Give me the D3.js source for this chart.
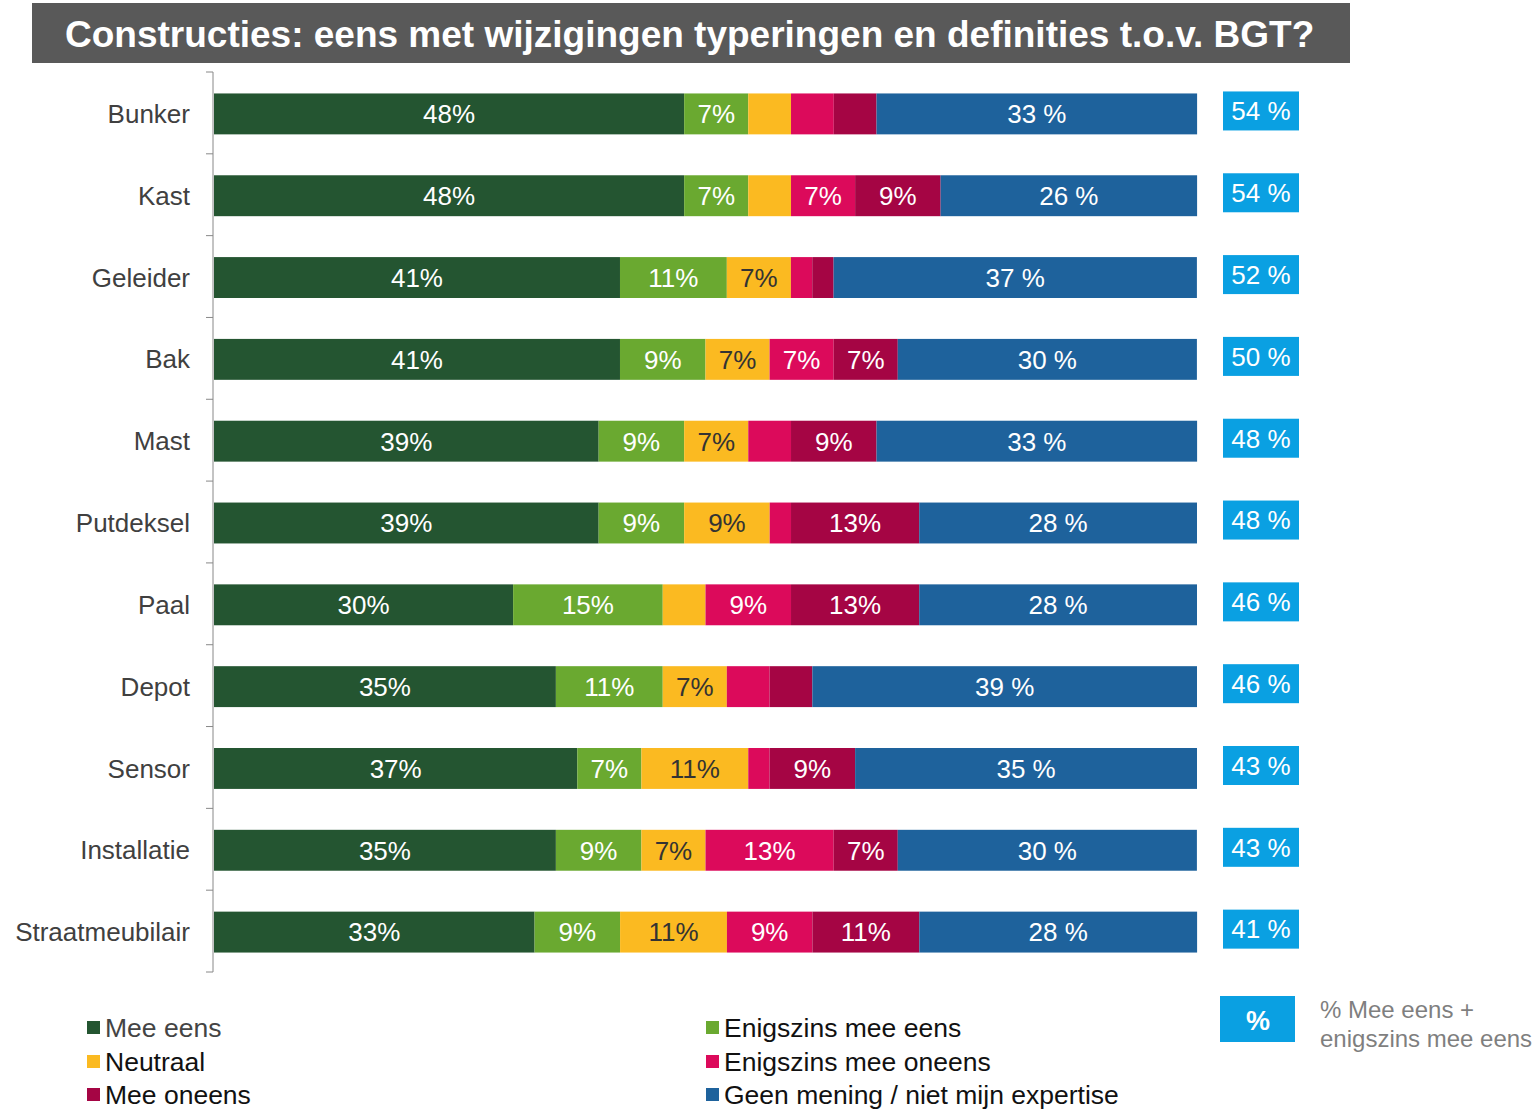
<!DOCTYPE html>
<html>
<head>
<meta charset="utf-8">
<script src="https://cdn.jsdelivr.net/npm/d3@7"></script>
<style>
  body { margin: 0; background: #fff; }
  svg { display: block; font-family: "Liberation Sans", Arial, sans-serif; }
</style>
</head>
<body>
<svg id="chart" width="1536" height="1110"></svg>
<script>
const categories = ['Bunker', 'Kast', 'Geleider', 'Bak', 'Mast', 'Putdeksel', 'Paal', 'Depot', 'Sensor', 'Installatie', 'Straatmeubilair'];

// percentages per answer category
const meeEens         = [47.83, 47.83, 41.30, 41.30, 39.13, 39.13, 30.43, 34.78, 36.96, 34.78, 32.61];
const enigszinsEens   = [6.52, 6.52, 10.87, 8.70, 8.70, 8.70, 15.22, 10.87, 6.52, 8.70, 8.70];
const neutraal        = [4.35, 4.35, 6.52, 6.52, 6.52, 8.70, 4.35, 6.52, 10.87, 6.52, 10.87];
const enigszinsOneens = [4.35, 6.52, 2.17, 6.52, 4.35, 2.17, 8.70, 4.35, 2.17, 13.04, 8.70];
const meeOneens       = [4.35, 8.70, 2.17, 6.52, 8.70, 13.04, 13.04, 4.35, 8.70, 6.52, 10.87];
const geenMening      = [32.61, 26.09, 36.96, 30.43, 32.61, 28.26, 28.26, 39.13, 34.78, 30.43, 28.26];

const totalEens = [54, 54, 52, 50, 48, 48, 46, 46, 43, 43, 41];

const series = [
    { name: 'Mee eens', values: meeEens, color: '#245531', text: '#fff', suffix: '%' },
    { name: 'Enigszins mee eens', values: enigszinsEens, color: '#6aa930', text: '#fff', suffix: '%' },
    { name: 'Neutraal', values: neutraal, color: '#fbba21', text: '#333', suffix: '%' },
    { name: 'Enigszins mee oneens', values: enigszinsOneens, color: '#dc0a5b', text: '#fff', suffix: '%' },
    { name: 'Mee oneens', values: meeOneens, color: '#a50544', text: '#fff', suffix: '%' },
    { name: 'Geen mening / niet mijn expertise', values: geenMening, color: '#1e629c', text: '#fff', suffix: ' %' }
];

const svg = d3.select('#chart');

// title
svg.append('rect').attr('x', 32).attr('y', 3).attr('width', 1318).attr('height', 60).attr('fill', '#595959');
svg.append('text').attr('x', 65).attr('y', 47)
    .attr('fill', '#fff').attr('font-size', 37).attr('font-weight', 'bold')
    .text('Constructies: eens met wijzigingen typeringen en definities t.o.v. BGT?');

const x = d3.scaleLinear().domain([0, 100]).range([214, 1197]);
const y = d3.scaleBand().domain(categories).range([73, 973]).paddingInner(0.5).paddingOuter(0.25);
const step = y.step();

// y axis with ticks at band boundaries
const axisG = svg.append('g');
axisG.append('line').attr('x1', 213).attr('x2', 213).attr('y1', 72).attr('y2', 972).attr('stroke', '#888');
axisG.selectAll('.tick')
    .data(d3.range(categories.length + 1))
    .enter().append('line')
    .attr('x1', 206).attr('x2', 213)
    .attr('y1', i => 72 + i * step).attr('y2', i => 72 + i * step)
    .attr('stroke', '#888');

svg.append('g').selectAll('text')
    .data(categories)
    .enter().append('text')
    .attr('x', 190)
    .attr('y', d => y(d) + y.bandwidth() / 2)
    .attr('dy', '0.35em')
    .attr('text-anchor', 'end')
    .attr('font-size', 26)
    .attr('fill', '#404040')
    .text(d => d);

// stacked segments
const rows = categories.map((c, i) => {
    let acc = 0;
    return series.map(s => {
        const seg = { cat: c, x0: acc, x1: acc + s.values[i], v: s.values[i], s };
        acc += s.values[i];
        return seg;
    });
});

const seg = svg.append('g').selectAll('g')
    .data(rows.flat())
    .enter().append('g');

seg.append('rect')
    .attr('x', d => x(d.x0))
    .attr('y', d => y(d.cat))
    .attr('width', d => x(d.x1) - x(d.x0))
    .attr('height', y.bandwidth())
    .attr('fill', d => d.s.color);

seg.filter(d => d.v >= 6)
    .append('text')
    .attr('x', d => (x(d.x0) + x(d.x1)) / 2)
    .attr('y', d => y(d.cat) + y.bandwidth() / 2)
    .attr('dy', '0.36em')
    .attr('text-anchor', 'middle')
    .attr('font-size', 26)
    .attr('fill', d => d.s.text)
    .text(d => Math.round(d.v) + d.s.suffix);

// totals boxes
const tot = svg.append('g').selectAll('g')
    .data(categories)
    .enter().append('g');

tot.append('rect')
    .attr('x', 1223)
    .attr('y', d => y(d) - 2)
    .attr('width', 76)
    .attr('height', 39)
    .attr('fill', '#0aa0e2');

tot.append('text')
    .attr('x', 1261)
    .attr('y', d => y(d) - 2 + 19.5)
    .attr('dy', '0.36em')
    .attr('text-anchor', 'middle')
    .attr('font-size', 26)
    .attr('fill', '#fff')
    .text((d, i) => totalEens[i] + ' %');

// legend
const legendPos = [[87, 1027], [706, 1027], [87, 1061], [706, 1061], [87, 1094], [706, 1094]];
const order = [0, 1, 2, 3, 4, 5];
const leg = svg.append('g').selectAll('g')
    .data(order)
    .enter().append('g')
    .attr('transform', (d, i) => `translate(${legendPos[i][0]},${legendPos[i][1]})`);

leg.append('rect').attr('x', 0).attr('y', -6).attr('width', 13).attr('height', 13)
    .attr('fill', d => series[d].color);
leg.append('text').attr('x', 18).attr('y', 0).attr('dy', '0.36em')
    .attr('font-size', 26.5)
    .attr('fill', (d, i) => i === 0 ? '#444' : '#111')
    .text(d => series[d].name);

// explanation box
svg.append('rect').attr('x', 1220).attr('y', 996).attr('width', 75).attr('height', 46).attr('fill', '#0aa0e2');
svg.append('text').attr('x', 1258).attr('y', 1020).attr('dy', '0.36em')
    .attr('text-anchor', 'middle').attr('font-size', 27).attr('font-weight', 'bold')
    .attr('fill', '#fff').text('%');
svg.append('text').attr('x', 1320).attr('y', 1018).attr('font-size', 24).attr('fill', '#7f7f7f')
    .text('% Mee eens +');
svg.append('text').attr('x', 1320).attr('y', 1047).attr('font-size', 24).attr('fill', '#7f7f7f')
    .text('enigszins mee eens');
</script>
</body>
</html>
